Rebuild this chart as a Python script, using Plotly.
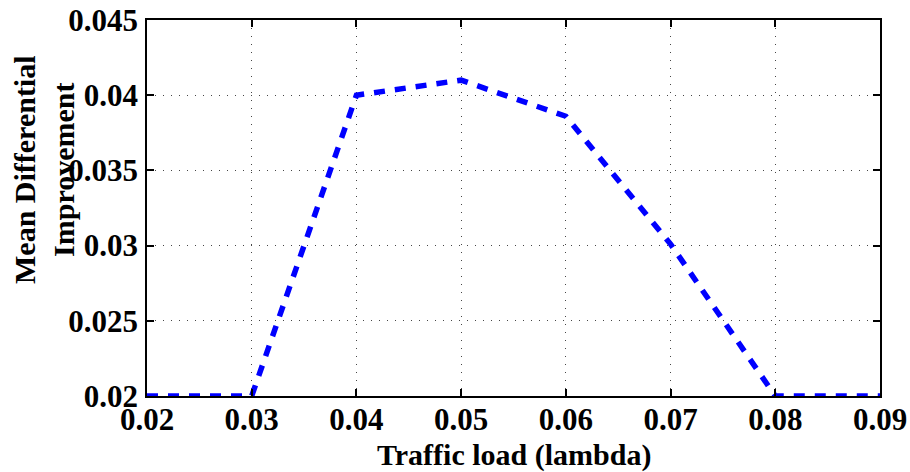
import plotly.graph_objects as go

traffic_load = [0.02, 0.03, 0.04, 0.05, 0.06, 0.07, 0.08, 0.09]
mean_diff_improvement = [0.020, 0.020, 0.040, 0.0410, 0.0386, 0.0301, 0.020, 0.020]
x_ticks = [0.02, 0.03, 0.04, 0.05, 0.06, 0.07, 0.08, 0.09]
y_ticks = [0.02, 0.025, 0.03, 0.035, 0.04, 0.045]
x_title = "Traffic load (lambda)"
y_title = "Mean Differential<br>Improvement"

FONT = "Liberation Serif, Times New Roman, serif"

fig = go.Figure()
fig.add_trace(go.Scatter(
    x=traffic_load, y=mean_diff_improvement, mode="lines",
    line=dict(color="rgb(0,0,255)", width=5.5, dash="11px,10px"),
    showlegend=False,
))

axis_common = dict(
    showline=True, linecolor="black", linewidth=1.5, mirror="ticks",
    ticks="inside", ticklen=7, tickwidth=1.5, tickcolor="black",
    showgrid=True, gridcolor="rgb(70,70,70)", gridwidth=1, griddash="1px,7px",
    zeroline=False, automargin=False,
    tickfont=dict(family=FONT, size=31, color="black", weight="bold"),
)

fig.update_xaxes(
    range=[0.02, 0.09], tickvals=x_ticks,
    ticktext=[f"{v:g}" for v in x_ticks],
    ticklabelstandoff=-5,
    **axis_common,
)
fig.update_yaxes(
    range=[0.02, 0.045], tickvals=y_ticks,
    ticktext=[f"{v:g}" for v in y_ticks],
    ticklabelstandoff=1,
    **axis_common,
)

PW, PH, L, T = 733, 376, 147, 20

fig.add_annotation(
    text=f"<b>{x_title}</b>",
    xref="paper", yref="paper",
    x=0.5, y=(T + PH - 455) / PH,
    xanchor="center", yanchor="middle", showarrow=False,
    font=dict(family=FONT, size=30, color="black"),
)

fig.add_annotation(
    text=f"<b>{y_title}</b>", textangle=-90,
    xref="paper", yref="paper",
    x=(44 - L) / PW, y=(T + PH - 170) / PH,
    xanchor="center", yanchor="middle", showarrow=False,
    font=dict(family=FONT, size=30, color="black"),
)

fig.update_layout(
    width=910, height=472,
    margin=dict(l=L, r=30, t=T, b=76),
    paper_bgcolor="white", plot_bgcolor="white",
)

fig.write_html("out.html")
